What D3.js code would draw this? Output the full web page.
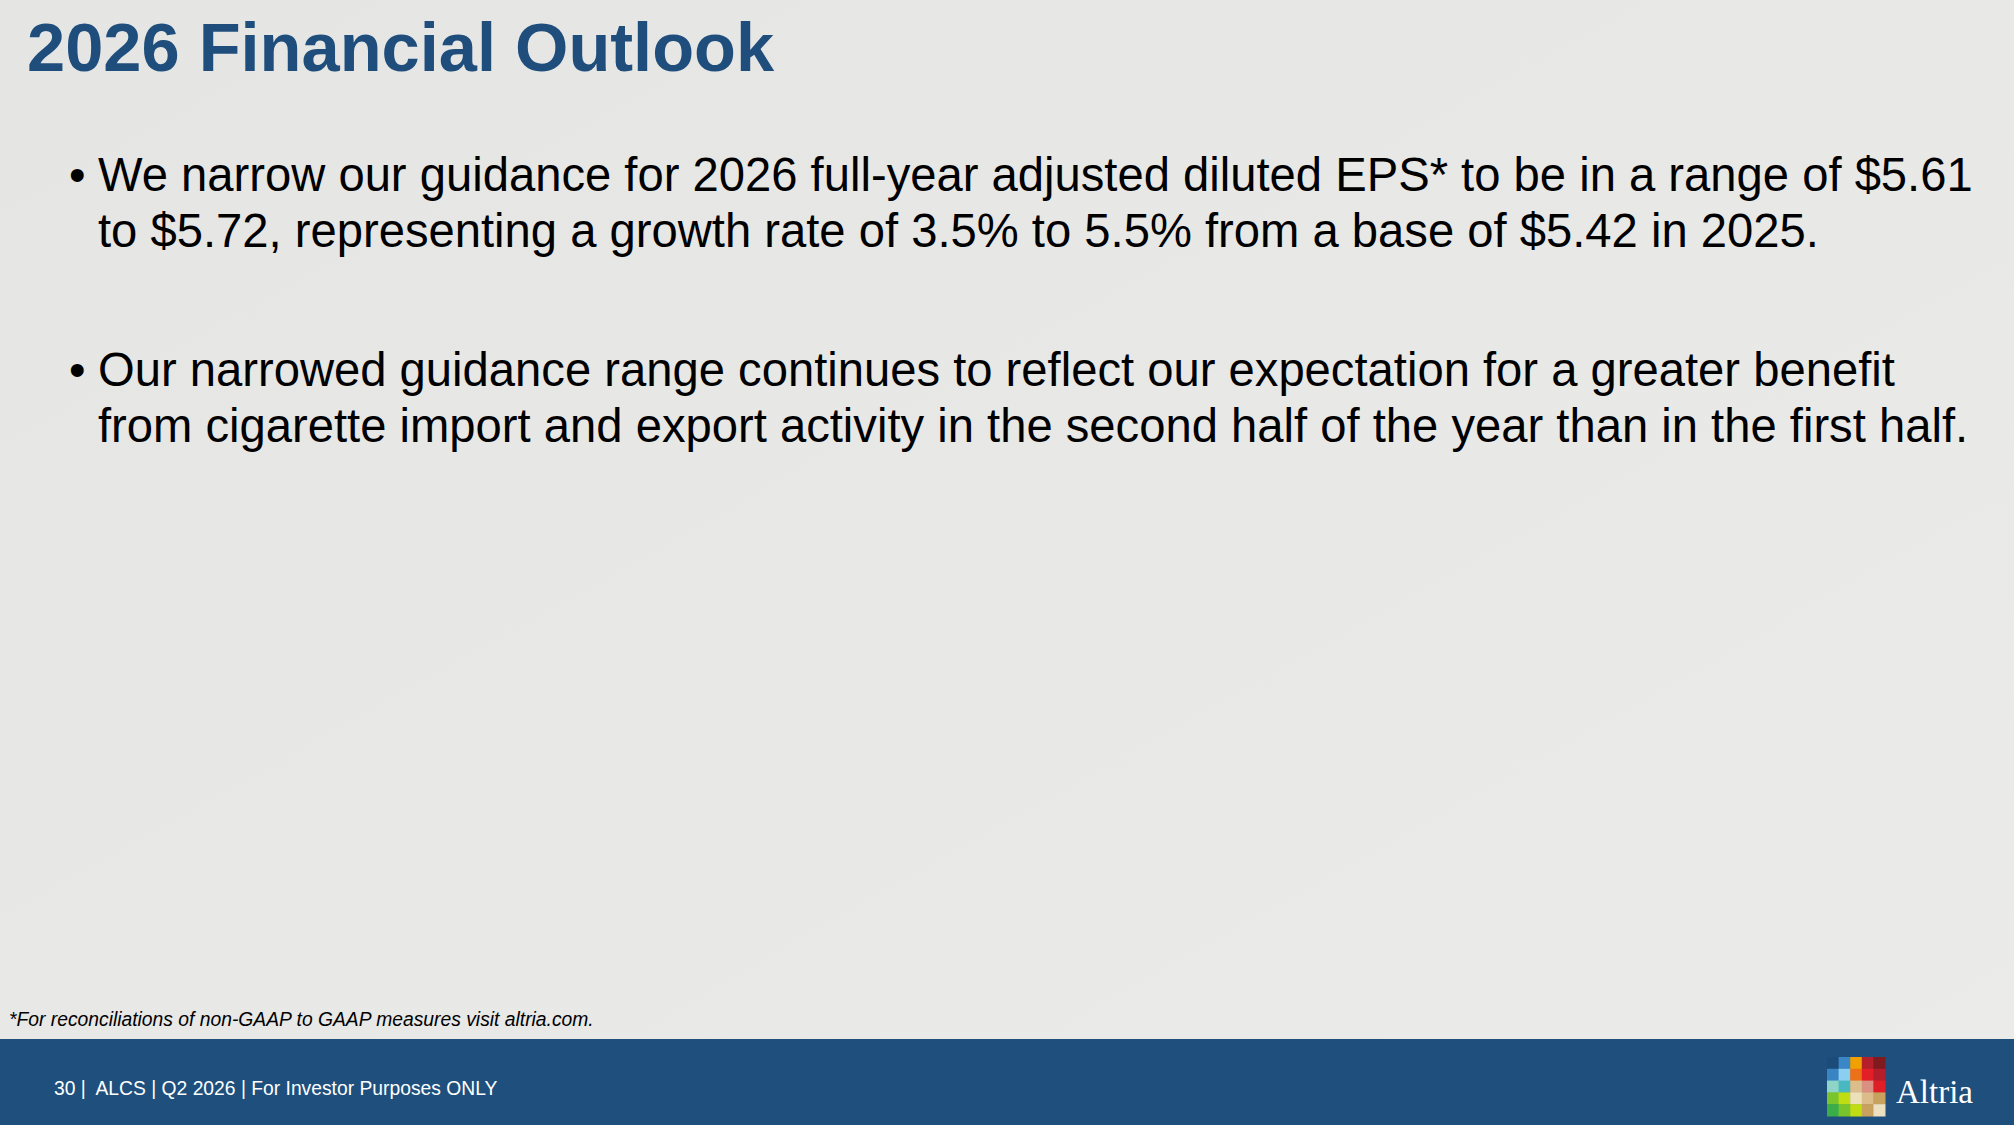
<!DOCTYPE html>
<head>
  <meta charset="utf-8">
  <script src="https://d3js.org/d3.v7.min.js"></script>
  <style>
  body { margin: 0; background: #e7e7e6; }
  svg { display: block; font-family: "Liberation Sans", Arial, sans-serif; }
  </style>
</head>

<body>
  <script>
    // slide texts
    var title = "2026 Financial Outlook";
    var bullets = [
      ["We narrow our guidance for 2026 full-year adjusted diluted EPS* to be in a range of $5.61",
       "to $5.72, representing a growth rate of 3.5% to 5.5% from a base of $5.42 in 2025."],
      ["Our narrowed guidance range continues to reflect our expectation for a greater benefit",
       "from cigarette import and export activity in the second half of the year than in the first half."]
    ];
    var footnote = "*For reconciliations of non-GAAP to GAAP measures visit altria.com.";
    var footer = "30 |  ALCS | Q2 2026 | For Investor Purposes ONLY";
    var brand = "Altria";

    // logo tile colours, row by row
    var logoRows = [
      ["#1c4a79", "#3a86c6", "#f0a000", "#b51f2a", "#7f1a1f"],
      ["#3985c4", "#8ccef0", "#ec7018", "#e21e27", "#b31e2a"],
      ["#8ed5c8", "#4ab8c0", "#dcbd8c", "#da9080", "#e01e27"],
      ["#7ac52c", "#c0dc12", "#ece0b8", "#dcbc88", "#c9a15f"],
      ["#3aad4a", "#78c42c", "#c0dc12", "#c9a15f", "#ece0c0"]
    ];

    var width = 2014, height = 1125;

    var svg = d3.select("body")
        .append("svg")
        .attr("width", width)
        .attr("height", height);

    // background
    var grad = svg.append("defs").append("linearGradient")
        .attr("id", "bg")
        .attr("x1", 0).attr("y1", 0).attr("x2", 1).attr("y2", 1);
    grad.append("stop").attr("offset", 0).attr("stop-color", "#e5e5e4");
    grad.append("stop").attr("offset", 1).attr("stop-color", "#ebebea");

    svg.append("rect")
      .attr("width", width)
      .attr("height", height)
      .attr("fill", "url(#bg)");

    // title
    svg.append("text")
      .attr("x", 27)
      .attr("y", 71)
      .attr("fill", "#1f4e7c")
      .attr("font-size", 68.6)
      .attr("font-weight", "bold")
      .text(title);

    // bullet blocks
    var lineY = d3.scaleOrdinal()
        .domain([0, 1])
        .range([191, 386]);
    var lineGap = 56;

    var block = svg.selectAll(".bullet")
      .data(bullets)
      .enter().append("g")
      .attr("class", "bullet")
      .attr("transform", function(d, i) { return "translate(0," + lineY(i) + ")"; });

    block.append("text")
      .attr("x", 69)
      .attr("y", 0)
      .attr("font-size", 47.2)
      .attr("fill", "#000")
      .text("\u2022");

    block.selectAll(".line")
      .data(function(d) { return d; })
      .enter().append("text")
      .attr("class", "line")
      .attr("x", 98)
      .attr("y", function(d, i) { return i * lineGap; })
      .attr("font-size", 47.2)
      .attr("fill", "#000")
      .text(function(d) { return d; });

    // footnote
    svg.append("text")
      .attr("x", 9)
      .attr("y", 1026)
      .attr("font-size", 19.3)
      .attr("font-style", "italic")
      .attr("fill", "#000")
      .text(footnote);

    // footer band
    svg.append("rect")
      .attr("x", 0)
      .attr("y", 1039)
      .attr("width", width)
      .attr("height", height - 1039)
      .attr("fill", "#1e4f7d");

    svg.append("text")
      .attr("x", 54)
      .attr("y", 1095)
      .attr("font-size", 19.3)
      .attr("fill", "#fff")
      .style("white-space", "pre")
      .text(footer);

    // logo grid
    var gx = d3.scaleBand().domain(d3.range(5)).range([1827, 1885]);
    var gy = d3.scaleBand().domain(d3.range(5)).range([1057, 1116]);

    var cells = [];
    logoRows.forEach(function(row, r) {
      row.forEach(function(c, k) { cells.push({r: r, c: k, color: c}); });
    });

    svg.selectAll(".tile")
      .data(cells)
      .enter().append("rect")
      .attr("class", "tile")
      .attr("x", function(d) { return gx(d.c); })
      .attr("y", function(d) { return gy(d.r); })
      .attr("width", gx.bandwidth() + 0.5)
      .attr("height", gy.bandwidth() + 0.5)
      .attr("fill", function(d) { return d.color; });

    svg.append("text")
      .attr("x", 1896)
      .attr("y", 1103)
      .attr("font-family", "'Liberation Serif', 'DejaVu Serif', serif")
      .attr("font-size", 33)
      .attr("fill", "#fff")
      .text(brand);
  </script>
</body>
